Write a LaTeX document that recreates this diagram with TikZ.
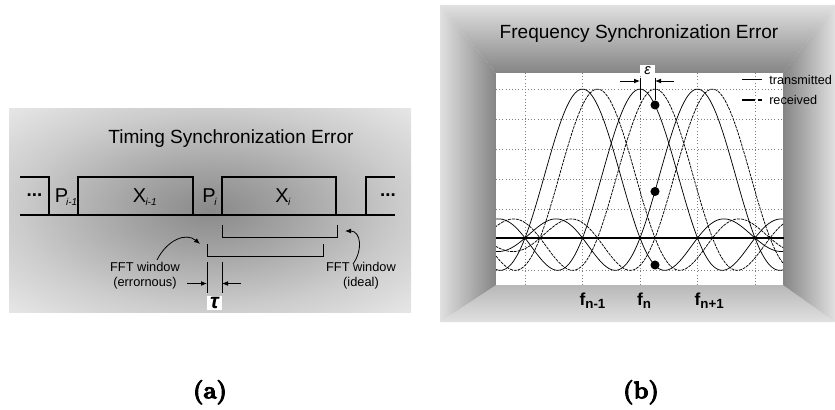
\documentclass[tikz,border=0pt]{standalone}
\usepackage{fontspec}
\newfontfamily\arialfont{Liberation Sans}
\newfontfamily\capfont{Latin Modern Roman}[BoldFeatures={FakeBold=4}]
\usetikzlibrary{arrows.meta}

\definecolor{glowdark}{gray}{0.54}
\definecolor{glowmid}{gray}{0.64}
\definecolor{glowpale}{gray}{0.8}
\definecolor{glowlight}{gray}{0.9}
\definecolor{framedark}{gray}{0.52}
\definecolor{framemid}{gray}{0.72}
\definecolor{framelight}{gray}{0.88}
\definecolor{gridgray}{gray}{0.5}

\pgfdeclareradialshading{panelglow}{\pgfpoint{0bp}{0bp}}{%
  color(0bp)=(glowdark); color(10bp)=(glowmid); color(24bp)=(glowpale); color(35bp)=(glowlight); color(50bp)=(glowlight)}

\newcommand\lowsub[2]{\kern#1\raisebox{-2.3pt}{\fontsize{7.5}{9}\selectfont\itshape #2}}
\newcommand\fsub[1]{\raisebox{-2.3pt}{\fontsize{10}{11}\selectfont\bfseries #1}}

\begin{document}
\begin{tikzpicture}[x=0.75pt,y=-0.75pt,
  blockline/.style={line width=1.5pt},
  fftwin/.style={line width=0.75pt},
  pointer/.style={-{Latex[length=4.5pt,width=3.6pt]},line width=0.6pt},
  sent/.style={line width=0.55pt},
  rcvd/.style={line width=0.55pt,dash pattern=on 2.2pt off 0.7pt},
  gridline/.style={gridgray,line width=0.4pt,dotted},
  title/.style={font=\arialfont\fontsize{14.3}{16}\selectfont,anchor=base,inner sep=0pt},
  sym/.style={font=\arialfont\fontsize{15}{18}\selectfont,anchor=base,inner sep=0pt},
  note/.style={font=\arialfont\fontsize{9.6}{11.3}\selectfont,align=center,inner sep=0pt},
  keytext/.style={font=\arialfont\fontsize{9.5}{11}\selectfont,anchor=west,inner sep=0pt},
  freq/.style={font=\arialfont\fontsize{13}{15}\selectfont\bfseries,anchor=base,inner sep=0pt},
  greekbox/.style={fill=white,inner sep=0pt},
  probe/.style={circle,fill=black,inner sep=0pt,minimum size=6.8pt},
  subcap/.style={font=\capfont\bfseries\fontsize{18}{20}\selectfont,anchor=north,inner sep=0pt}]

  \useasboundingbox (0,0) rectangle (835,410);

  % timing error panel
  \shade[shading=panelglow] (9,108) rectangle (411,312);
  \node[title] (ta) at (231,143) {Timing Synchronization Error};

  \draw[blockline] (20,177) -- (49,177) -- (49,215);
  \draw[blockline] (20,215) -- (395,215);
  \draw[blockline] (78,177) rectangle (193,215);
  \draw[blockline] (222,177) rectangle (336,215);
  \draw[blockline] (366,215) -- (366,177) -- (395,177);

  \node[font=\arialfont\fontsize{14}{16}\selectfont\bfseries,inner sep=0pt] (da) at (34.5,195) {...};
  \node[font=\arialfont\fontsize{14}{16}\selectfont\bfseries,inner sep=0pt] (db) at (388,195) {...};
  \node[sym] (pa) at (61.5,202) {P\rlap{\lowsub{-1.5pt}{i-1}}};
  \node[sym] (xa) at (139.5,202) {X\rlap{\lowsub{-0.5pt}{i-1}}};
  \node[sym] (pb) at (209,202) {P\rlap{\lowsub{-1pt}{i}}};
  \node[sym] (xb) at (282,202) {X\rlap{\lowsub{-0.5pt}{i}}};

  \draw[fftwin] (222,225) -- (222,237) -- (337,237) -- (337,225);
  \draw[fftwin] (207,244) -- (207,256) -- (323,256) -- (323,244);

  \coordinate (ga) at (207,262);
  \coordinate (gb) at (207,293);
  \coordinate (gc) at (222,262);
  \coordinate (gd) at (222,293);
  \draw[fftwin] (ga) -- (gb);
  \draw[fftwin] (gc) -- (gd);
  \coordinate (ha) at (187,283.5);
  \coordinate (hb) at (241,283.5);
  \draw[pointer] (ha) -- (ha -| ga);
  \draw[pointer] (hb) -- (hb -| gc);
  \node[greekbox,minimum width=11.25pt,minimum height=10.5pt,
        font=\arialfont\fontsize{16}{16}\selectfont\bfseries\itshape] (tau) at (214.5,303) {τ};

  \node[note] (ea) at (145,276) {FFT window\\(errornous)};
  \node[note] (ia) at (361,276) {FFT window\\(ideal)};
  \coordinate (ka) at (157,260);
  \coordinate (kb) at (200,244);
  \coordinate (kc) at (353,264);
  \coordinate (kd) at (345,231);
  \draw[pointer] (ka) .. controls (167,240) and (186,232) .. (kb);
  \draw[pointer] (kc) .. controls (363,250) and (361,231) .. (kd);

  % frequency error panel
  \shade[top color=framelight,bottom color=framedark] (440,5) -- (835,5) -- (783,73) -- (496,73) -- cycle;
  \shade[top color=framemid,bottom color=framelight] (496,285) -- (783,285) -- (835,322) -- (440,322) -- cycle;
  \shade[left color=framelight,right color=framedark] (440,5) -- (496,73) -- (496,285) -- (440,322) -- cycle;
  \shade[left color=framedark,right color=framelight] (783,73) -- (835,5) -- (835,322) -- (783,285) -- cycle;
  \node[title] (tb) at (639,39) {Frequency Synchronization Error};

  \fill[white] (496,73) rectangle (783,285);
  \foreach \gx in {525,582.5,640,697.5,755}
    \draw[gridline] (\gx,73) -- (\gx,285);
  \foreach \gy in {89,119,149,179,209,270}
    \draw[gridline] (496,\gy) -- (783,\gy);

  \begin{scope}
    \clip (496,73) rectangle (783,285);
    \foreach \c in {582.5,640,697.5}{
      \draw[sent] plot[domain=-5:5,samples=200] ({\c+57.5*\x},{238-149*sin(180*\x)/(pi*\x)});
      \draw[rcvd] plot[domain=-5:5,samples=200] ({\c+15+57.5*\x},{238-149*sin(180*\x)/(pi*\x)});
    }
  \end{scope}
  \draw[line width=1.1pt] (496,238) -- (784,238);

  \node[probe] (pa) at (655,105) {};
  \node[probe] (pb) at (655,191.5) {};
  \node[probe] (pc) at (655,265) {};

  \node[greekbox,minimum width=11.25pt,minimum height=8.25pt,
        font=\arialfont\fontsize{11}{12}\selectfont\itshape] (eps) at (647.5,70.5) {ε};
  \coordinate (ma) at (640,78);
  \coordinate (mb) at (640,100);
  \coordinate (mc) at (655,78);
  \draw[sent] (ma) -- (mb);
  \draw[sent] (mc) -- (pa);
  \coordinate (na) at (620,81);
  \coordinate (nb) at (674,81);
  \draw[pointer] (na) -- (na -| ma);
  \draw[pointer] (nb) -- (nb -| mc);

  \coordinate (la) at (742,79);
  \coordinate (lb) at (762,79);
  \coordinate (lc) at (742,100);
  \coordinate (ld) at (762,100);
  \draw[sent] (la) -- (lb);
  \draw[line width=1.5pt,dash pattern=on 9.75pt off 2.25pt on 3pt off 10pt] (lc) -- (ld);
  \node[keytext] (lt) at (769,80) {transmitted};
  \node[keytext] (lr) at (769,100) {received};

  \node[freq] (fa) at (582.5,305) {f\rlap{\fsub{n-1}}};
  \node[freq] (fb) at (640,305) {f\rlap{\fsub{n}}};
  \node[freq] (fc) at (697.5,305) {f\rlap{\fsub{n+1}}};

  \node[subcap] (ca) at (210,380) {(a)};
  \node[subcap] (cb) at (641,380) {(b)};

\end{tikzpicture}
\end{document}
